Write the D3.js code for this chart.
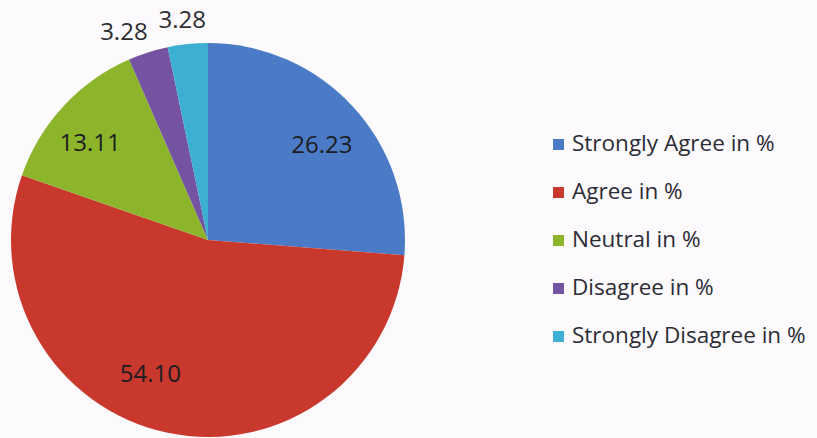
<!DOCTYPE html>
<html>
<head>
<meta charset="utf-8">
<script src="https://cdn.jsdelivr.net/npm/d3@7"></script>
<style>
  html, body { margin: 0; padding: 0; background: #fcfafc; }
  svg { display: block; }
</style>
</head>
<body>
<div id="chart"></div>
<script>
// chart data
var categories = ["Strongly Agree in %", "Agree in %", "Neutral in %", "Disagree in %", "Strongly Disagree in %"];
var values = [26.23, 54.10, 13.11, 3.28, 3.28];
var valueLabels = ["26.23", "54.10", "13.11", "3.28", "3.28"];
var colors = ["#4b7bc6", "#c8382d", "#8db52c", "#7453a2", "#3cafd2"];

// svg area
var svgWidth = 817;
var svgHeight = 438;
var cx = 208, cy = 240, radius = 197;

// labels get a small nudge, like excel "best fit"
var labelNudge = [[4, 6], [-27, -13], [-8, 4], [-17, 2], [-3, -1]];

var svg = d3.select("#chart")
  .append("svg")
  .attr("width", svgWidth)
  .attr("height", svgHeight);

var pieGroup = svg.append("g")
  .attr("transform", `translate(${cx}, ${cy})`);

var pie = d3.pie().sort(null).value(function(d) { return d; });
var arcs = pie(values);

var arc = d3.arc().innerRadius(0).outerRadius(radius);
var inLabelArc = d3.arc().innerRadius(radius * 0.76).outerRadius(radius * 0.76);
var outLabelArc = d3.arc().innerRadius(radius * 1.12).outerRadius(radius * 1.12);

pieGroup.selectAll("path.slice")
  .data(arcs)
  .enter()
  .append("path")
  .attr("class", "slice")
  .attr("d", arc)
  .attr("fill", function(d, i) { return colors[i]; });

// data labels, small slices go outside
pieGroup.selectAll("text.value")
  .data(arcs)
  .enter()
  .append("text")
  .attr("class", "value")
  .attr("transform", function(d, i) {
    var small = (d.endAngle - d.startAngle) < 0.4;
    var c = small ? outLabelArc.centroid(d) : inLabelArc.centroid(d);
    return `translate(${c[0] + labelNudge[i][0]}, ${c[1] + labelNudge[i][1]})`;
  })
  .attr("text-anchor", "middle")
  .attr("dy", "0.35em")
  .attr("font-family", "'Open Sans', sans-serif")
  .attr("font-size", "24px")
  .attr("fill", function(d) { return (d.endAngle - d.startAngle) < 0.4 ? "#2e2e33" : "#1c1c22"; })
  .text(function(d, i) { return valueLabels[i]; });

// legend
var legend = svg.append("g")
  .attr("transform", "translate(553, 139)");

var rows = legend.selectAll("g.row")
  .data(categories)
  .enter()
  .append("g")
  .attr("class", "row")
  .attr("transform", function(d, i) { return `translate(0, ${i * 48})`; });

rows.append("rect")
  .attr("width", 11)
  .attr("height", 11)
  .attr("fill", function(d, i) { return colors[i]; });

rows.append("text")
  .attr("x", 19)
  .attr("y", 12)
  .attr("font-family", "'Open Sans', sans-serif")
  .attr("font-size", "22.5px")
  .attr("fill", "#2c2c36")
  .text(function(d) { return d; });
</script>
</body>
</html>
